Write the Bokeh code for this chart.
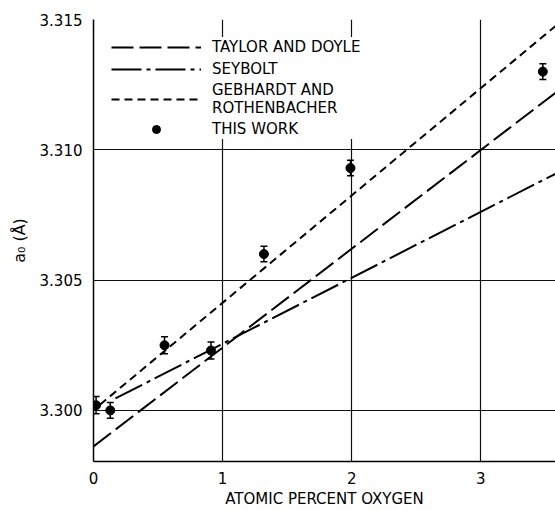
from bokeh.plotting import figure
from bokeh.models import (ColumnDataSource, Whisker, TeeHead, Legend, LegendItem,
                          FixedTicker, PrintfTickFormatter, Range1d)
from bokeh.embed import file_html
from bokeh.resources import INLINE

# ---- data ----
work_x = [0.02, 0.13, 0.55, 0.91, 1.32, 1.99, 3.48]
work_y = [3.3002, 3.3000, 3.3025, 3.3023, 3.3060, 3.3093, 3.3130]
work_err = [0.00033, 0.00030, 0.00033, 0.00033, 0.00030, 0.00030, 0.00030]

taylor_x = [0.0, 3.7]
taylor_y = [3.29862, 3.31265]
seybolt_x = [0.17, 3.7]
seybolt_y = [3.30046, 3.30939]
gebhardt_x = [0.05, 3.7]
gebhardt_y = [3.30022, 3.31525]

x_ticks = [0, 1, 2, 3]
y_ticks = [3.300, 3.305, 3.310, 3.315]

FONT = "DejaVu Sans"
X0, X1 = 0, 3.578
Y0, Y1 = 3.29804, 3.315

p = figure(width=555, height=510, output_backend="svg", toolbar_location=None,
           x_range=Range1d(X0, X1), y_range=Range1d(Y0, Y1),
           min_border_left=93, min_border_right=0, min_border_top=19,
           min_border_bottom=49)
p.outline_line_color = None
p.background_fill_color = "white"

# grid
for g in (p.xgrid, p.ygrid):
    g.grid_line_color = "#111111"
    g.grid_line_width = 1.2
p.xgrid.ticker = FixedTicker(ticks=x_ticks)
p.ygrid.ticker = FixedTicker(ticks=y_ticks)

# axes
p.xaxis.ticker = FixedTicker(ticks=x_ticks)
p.yaxis.ticker = FixedTicker(ticks=y_ticks)
p.yaxis.formatter = PrintfTickFormatter(format="%.3f")
for ax in (p.xaxis[0], p.yaxis[0]):
    ax.axis_line_color = "black"
    ax.axis_line_width = 1.5
    ax.major_tick_line_color = None
    ax.minor_tick_line_color = None
    ax.major_tick_out = 0
    ax.major_tick_in = 0
    ax.minor_tick_out = 0
    ax.major_label_text_font = FONT
    ax.major_label_text_font_size = "15px"
    ax.major_label_text_line_height = 1.0
    ax.major_label_text_color = "black"
    ax.axis_label_text_font = FONT
    ax.axis_label_text_font_size = "15px"
    ax.axis_label_text_line_height = 1.0
    ax.axis_label_text_font_style = "normal"
    ax.axis_label_text_color = "black"
p.xaxis.axis_label = "ATOMIC PERCENT OXYGEN"
p.yaxis.axis_label = "a\u2080 (\u00c5)"
p.yaxis.axis_label_text_font_size = "16px"
p.xaxis.major_label_standoff = 10
p.xaxis.axis_label_standoff = 3
p.yaxis.major_label_standoff = 11
p.yaxis.axis_label_standoff = 8

# lines
r_taylor = p.line(taylor_x, taylor_y, line_color="black", line_width=2, line_dash="22 6")
r_seybolt = p.line(seybolt_x, seybolt_y, line_color="black", line_width=2, line_dash="30 5 4 5")
r_gebhardt = p.line(gebhardt_x, gebhardt_y, line_color="black", line_width=2, line_dash="8 5")

# data points with error bars
src = ColumnDataSource(dict(x=work_x, y=work_y,
                            upper=[y + e for y, e in zip(work_y, work_err)],
                            lower=[y - e for y, e in zip(work_y, work_err)]))
p.add_layout(Whisker(source=src, base="x", upper="upper", lower="lower",
                     dimension="height", line_color="black", line_width=1.5,
                     upper_head=TeeHead(size=7, line_color="black", line_width=1.5),
                     lower_head=TeeHead(size=7, line_color="black", line_width=1.5)))
r_pts = p.scatter("x", "y", source=src, size=9, fill_color="black", line_color="black")

legend = Legend(items=[
    LegendItem(label="TAYLOR AND DOYLE", renderers=[r_taylor]),
    LegendItem(label="SEYBOLT", renderers=[r_seybolt]),
    LegendItem(label="GEBHARDT AND\nROTHENBACHER", renderers=[r_gebhardt]),
    LegendItem(label="THIS WORK", renderers=[r_pts]),
], location="top_left")
legend.margin = 18
legend.padding = 7
legend.spacing = 2
legend.glyph_width = 90
legend.glyph_height = 20
legend.label_standoff = 11
legend.label_text_font = FONT
legend.label_text_font_size = "15px"
legend.label_text_line_height = 1.0
legend.label_text_color = "black"
legend.border_line_color = None
legend.background_fill_color = "white"
legend.background_fill_alpha = 1.0
p.add_layout(legend)

open("out.html", "w").write(file_html(p, INLINE))
